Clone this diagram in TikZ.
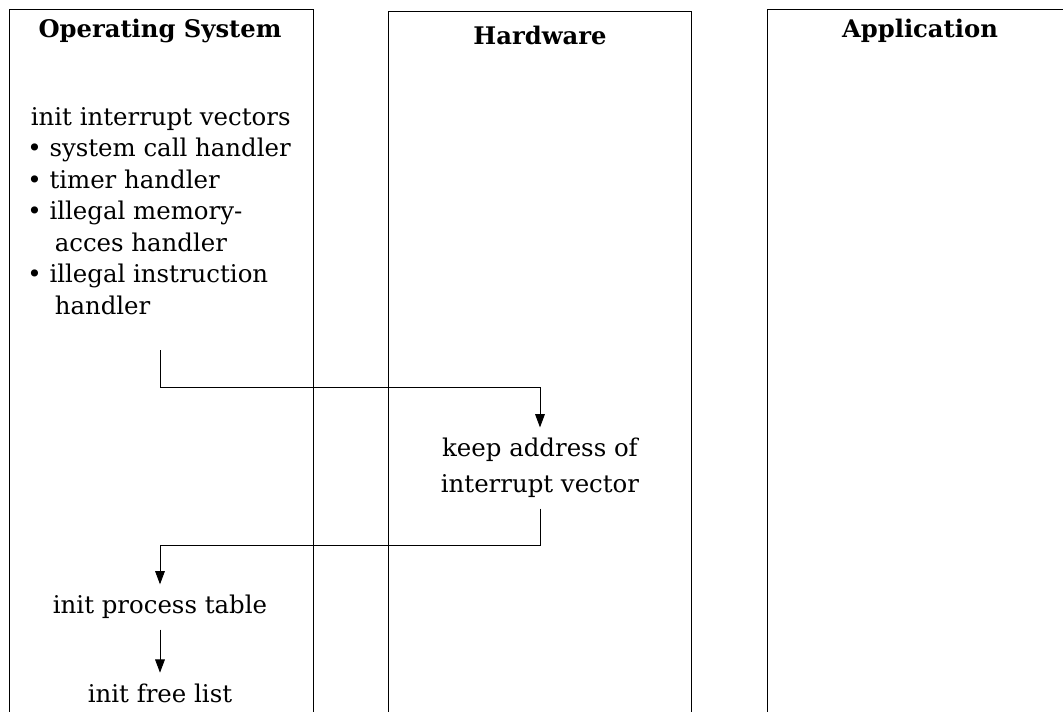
\documentclass[tikz,border=0pt]{standalone}
\usepackage{fontspec}
\setmainfont{DejaVu Serif}
\usetikzlibrary{
arrows.meta
}

\begin{document}
\begin{tikzpicture}[
        x = 0.02cm,
        y = -0.02cm,
        lane/.style={
          draw,
          line width = 0.5pt,
        },
        lane title/.style={
          font = \fontsize{13.8}{16}\selectfont\bfseries,
          inner sep = 0pt,
        },
        task/.style={
          font = \fontsize{13.9}{17.9}\selectfont,
          inner xsep = 0pt,
          inner ysep = 6pt,
        },
        flow/.style={
          line width = 0.5pt,
          -{Triangle[length=7.5pt,width=5.5pt]},
        },
        ]
        \useasboundingbox (0,0) rectangle (1063,711);
        \draw [lane] (9,730) -- (9,9) -- (313,9) -- (313,730);
        \draw [lane] (388,730) -- (388,11) -- (691,11) -- (691,730);
        \draw [lane] (767,730) -- (767,9) -- (1080,9);
        \node [lane title] (os-title) at (160,31) {Operating System};
        \node [lane title] (hw-title) at (540,35) {Hardware};
        \node [lane title] (app-title) at (920,31) {Application};
        \node [task, align=left, anchor=north west, inner ysep=0pt] (vectors) at (27,107) {%
          \hspace{2pt}init interrupt vectors\\
          \textbullet\ system call handler\\
          \textbullet\ timer handler\\
          \textbullet\ illegal memory-\\
          \phantom{\textbullet\ }\hspace{3pt}acces handler\\
          \textbullet\ illegal instruction\\
          \phantom{\textbullet\ }\hspace{3pt}handler};
        \coordinate (vectors-out) at (160,350);
        \node [task, align=center] (keep) at (540,468) {keep address of\\[2.5pt]interrupt vector};
        \node [task] (proc-table) at (160,607) {init process table};
        \node [task] (free-list) at (160,693) {init free list};
        \draw [flow] (vectors-out) -- ++(0,37) -| (keep.north);
        \draw [flow] (keep.south) -- ++(0,37) -| (proc-table.north);
        \draw [flow] (proc-table.south) -- (free-list.north);
      \end{tikzpicture}
\end{document}
